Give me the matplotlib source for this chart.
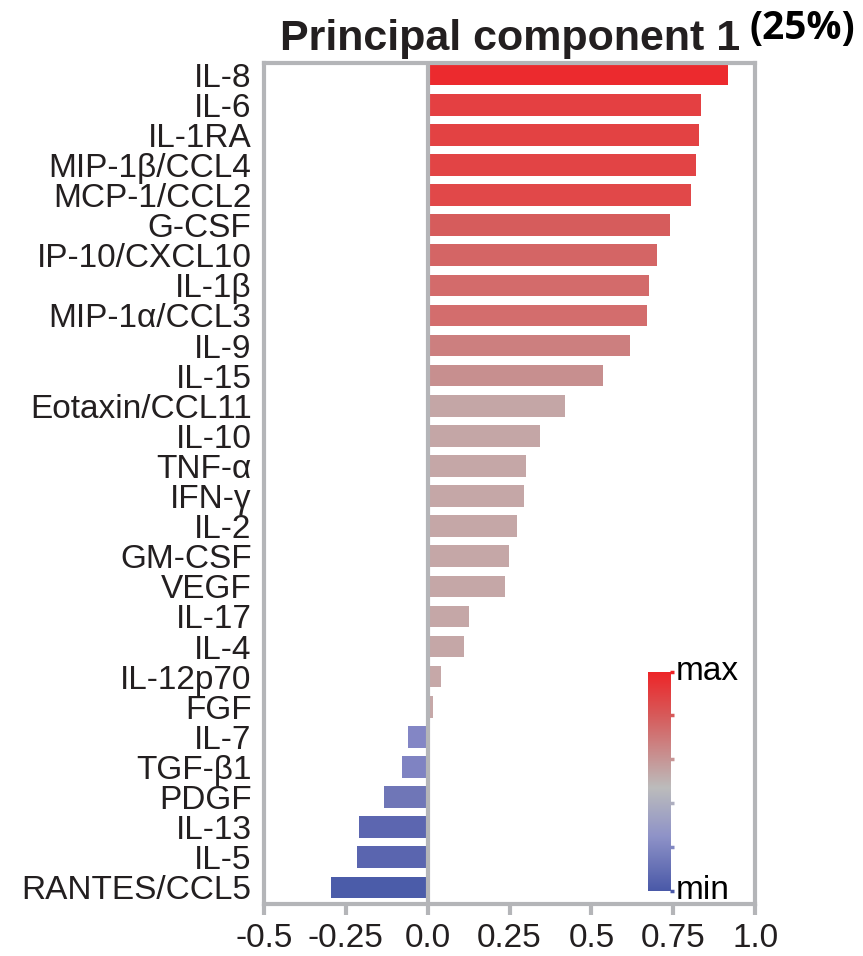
import numpy as np
import matplotlib.pyplot as plt
from matplotlib.colors import LinearSegmentedColormap

plt.rcParams["font.family"] = ["Liberation Sans", "DejaVu Sans"]

# loadings on PC1, top to bottom
cytokines = [
    "IL-8", "IL-6", "IL-1RA", "MIP-1β/CCL4", "MCP-1/CCL2", "G-CSF",
    "IP-10/CXCL10", "IL-1β", "MIP-1α/CCL3", "IL-9", "IL-15",
    "Eotaxin/CCL11", "IL-10", "TNF-α", "IFN-γ", "IL-2", "GM-CSF", "VEGF",
    "IL-17", "IL-4", "IL-12p70", "FGF", "IL-7", "TGF-β1", "PDGF", "IL-13",
    "IL-5", "RANTES/CCL5",
]
loadings = [
    0.916, 0.834, 0.829, 0.818, 0.803, 0.740, 0.701, 0.675, 0.671, 0.618,
    0.534, 0.418, 0.342, 0.299, 0.295, 0.274, 0.248, 0.237, 0.127, 0.112,
    0.041, 0.016, -0.061, -0.078, -0.135, -0.210, -0.217, -0.297,
]
xticks = [-0.5, -0.25, 0.0, 0.25, 0.5, 0.75, 1.0]
xtick_labels = ["-0.5", "-0.25", "0.0", "0.25", "0.5", "0.75", "1.0"]

GRAY = "#b4b5b8"
TXT = "#231f20"

# bar colour as a function of loading value
bar_cmap = LinearSegmentedColormap.from_list("bars", [
    (0.000, "#4b5ca9"), (0.072, "#5c66b0"), (0.134, "#6f76b7"),
    (0.196, "#8487c6"), (0.240, "#b9a9b8"), (0.245, "#c6a8a8"),
    (0.590, "#c4a6a6"), (0.680, "#c79090"), (0.755, "#cc8080"),
    (0.795, "#d36e6e"), (0.855, "#d65c5c"), (0.905, "#e04a4a"),
    (1.000, "#ec2a2e"),
])
cbar_cmap = LinearSegmentedColormap.from_list("cbar", [
    (0.0, "#4a59a8"), (0.25, "#8f93c8"), (0.47, "#bcbcbc"),
    (0.6, "#c79595"), (0.8, "#d75a5a"), (1.0, "#ee2427"),
])

vals = np.array(loadings)
lo, hi = vals.min(), vals.max()
colors = [bar_cmap((v - lo) / (hi - lo)) for v in vals]

fig = plt.figure(figsize=(8.63, 9.56), dpi=100)
ax = fig.add_axes([0.306, 0.0545, 0.569, 0.880])

y = np.arange(len(cytokines))
ax.barh(y, vals, height=0.72, color=colors, zorder=2)
ax.axvline(0, color=GRAY, lw=3, zorder=3)

ax.set_xlim(-0.5, 1.0)
ax.set_ylim(len(cytokines) - 0.45, -0.4)
ax.set_yticks(y)
ax.set_yticklabels(cytokines, fontsize=24, color=TXT)
ax.tick_params(axis="y", length=0, pad=9)
ax.set_xticks(xticks)
ax.set_xticklabels(xtick_labels, fontsize=24, color=TXT)
ax.tick_params(axis="x", length=8, width=3, color=GRAY, pad=6)
for s in ax.spines.values():
    s.set_color(GRAY)
    s.set_linewidth(3)

fig.text(0.591, 0.948, "Principal component 1", fontsize=31,
         fontweight="bold", color=TXT, ha="center", va="baseline")
fig.text(0.868, 0.959, "(25%)", fontsize=28, fontweight="bold",
         family="Open Sans", color="black", ha="left", va="baseline")

# colour key
cax = fig.add_axes([0.751, 0.068, 0.0255, 0.2295])
grad = np.linspace(0, 1, 256).reshape(-1, 1)
cax.imshow(grad, aspect="auto", cmap=cbar_cmap, origin="lower",
           extent=[0, 1, 0, 1])
cax.set_xlim(0, 1)
cax.set_ylim(0, 1)
for p in np.linspace(0, 1, 6):
    cax.plot([1, 1.18], [p, p], color=cbar_cmap(p), lw=2.5,
             solid_capstyle="butt", clip_on=False)
cax.axis("off")
cax.text(1.25, 1.0, "max", transform=cax.transAxes, fontsize=24,
         color="black", ha="left", va="center")
cax.text(1.25, 0.0, "min", transform=cax.transAxes, fontsize=24,
         color="black", ha="left", va="center")

fig.savefig("out.png", dpi=100)
